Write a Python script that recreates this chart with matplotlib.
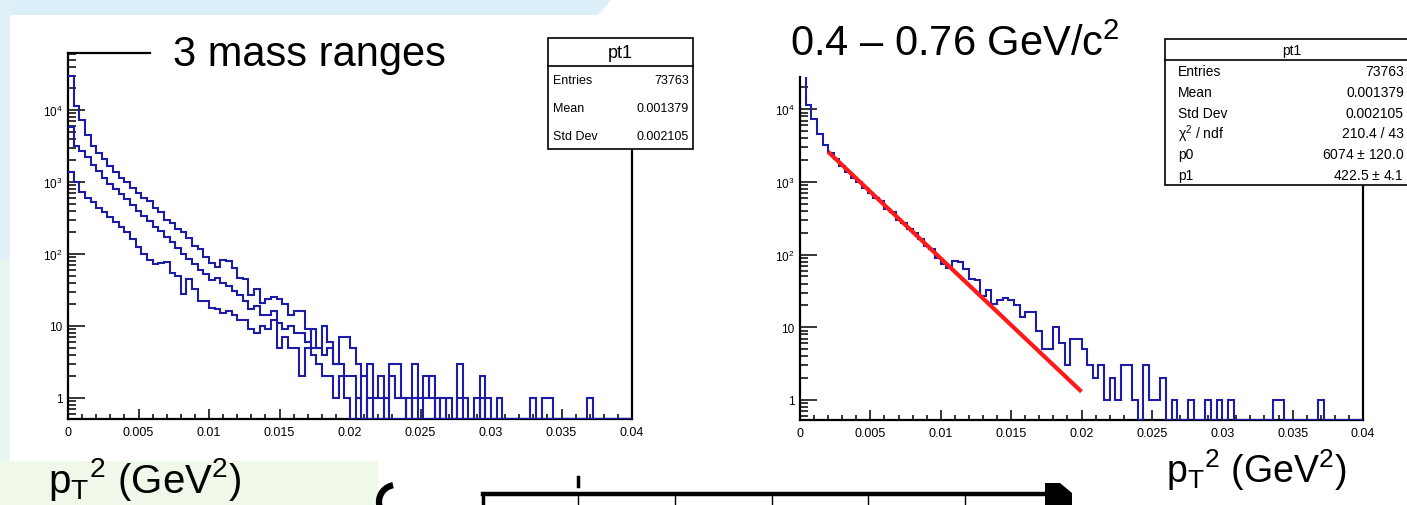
import numpy as np
import matplotlib
matplotlib.use('Agg')
import matplotlib.pyplot as plt
from matplotlib.patches import Rectangle, Polygon, Arc
from matplotlib.lines import Line2D
from matplotlib.transforms import Affine2D
from matplotlib.ticker import FixedLocator, NullFormatter, LogLocator

W, H = 1407, 506

plt.rcParams['font.family'] = ['Liberation Sans', 'DejaVu Sans']
plt.rcParams['mathtext.fontset'] = 'custom'
plt.rcParams['mathtext.rm'] = 'Liberation Sans'
plt.rcParams['mathtext.it'] = 'Liberation Sans:italic'
plt.rcParams['mathtext.default'] = 'regular'

# pT^2 histograms, 100 bins of 0.0004 GeV^2 from 0 to 0.04
bin_edges = np.linspace(0, 0.04, 101)

# mass range 0.4 - 0.76 GeV/c^2 (also the top curve on the left)
counts_a = [30000, 11500, 7300, 4500, 3200, 2500, 2100, 1650, 1380, 1150,
            1000, 820, 700, 600, 540, 430, 380, 300, 270, 225,
            200, 165, 130, 118, 90, 75, 66, 82, 80, 63,
            46, 45, 27, 33, 21, 24, 25, 24, 20, 14,
            16, 16, 9, 5, 5, 10, 6, 3, 7, 7,
            5, 3, 2, 3, 1, 2, 1, 3, 3, 1,
            0, 3, 1, 1, 2, 0, 1, 0, 0, 1,
            0, 0, 1, 0, 1, 0, 1, 0, 0, 0,
            0, 0, 0, 0, 1, 1, 0, 0, 0, 0,
            0, 0, 1, 0, 0, 0, 0, 0, 0, 0]
counts_b = [5800, 3200, 2700, 2200, 1700, 1400, 1150, 950, 800, 680,
            580, 480, 400, 340, 290, 240, 210, 170, 145, 120,
            100, 86, 72, 60, 52, 44, 46, 39, 36, 31,
            27, 22, 17, 19, 14, 14, 16, 11, 9, 10,
            8, 8, 6, 9, 5, 4, 5, 3, 3, 2,
            2, 1, 2, 0, 1, 1, 0, 2, 1, 1,
            0, 1, 0, 2, 1, 0, 0, 1, 0, 3,
            1, 0, 0, 1, 0, 0, 0, 0, 0, 0,
            0, 0, 1, 0, 0, 0, 0, 0, 0, 0,
            0, 0, 0, 0, 0, 0, 0, 0, 0, 0]
counts_c = [1380, 1000, 720, 600, 525, 430, 380, 330, 280, 240,
            200, 160, 125, 100, 82, 73, 75, 78, 55, 49,
            28, 45, 33, 22, 22, 18, 17, 15, 16, 14,
            12, 12, 9, 8, 10, 9, 12, 5, 7, 5,
            5, 2, 5, 4, 3, 2, 2, 1, 2, 1,
            0, 1, 0, 1, 0, 0, 1, 0, 0, 0,
            1, 0, 0, 0, 0, 1, 0, 0, 0, 0,
            0, 0, 0, 2, 0, 0, 0, 0, 0, 0,
            0, 0, 0, 0, 0, 0, 0, 0, 0, 0,
            0, 0, 0, 0, 0, 0, 0, 0, 0, 0]

# exponential fit drawn over 0.002 - 0.02
fit_x = [0.002, 0.02]
fit_y = [2600, 1.3]

x_ticks = [0, 0.005, 0.01, 0.015, 0.02, 0.025, 0.03, 0.035, 0.04]
x_tick_labels = ['0', '0.005', '0.01', '0.015', '0.02', '0.025', '0.03', '0.035', '0.04']
y_ticks = [1, 10, 100, 1000, 10000]
y_tick_labels = ['1', '10', '$10^{2}$', '$10^{3}$', '$10^{4}$']

stats_left = [('Entries', '73763'), ('Mean', '0.001379'), ('Std Dev', '0.002105')]
stats_right = [('Entries', '73763'), ('Mean', '0.001379'), ('Std Dev', '0.002105'),
               ('$\\chi^{2}$ / ndf', '210.4 / 43'), ('p0', '6074 $\\pm$ 120.0'),
               ('p1', '422.5 $\\pm$ 4.1')]

HIST_COLOR = '#1c1ca6'
FIT_COLOR = '#ff1a1a'


def rect(x0, y0, x1, y1):
    return [x0 / W, 1 - y1 / H, (x1 - x0) / W, (y1 - y0) / H]


def style_axes(ax, ylim):
    ax.set_xlim(0, 0.04)
    ax.set_yscale('log')
    ax.set_ylim(*ylim)
    ax.xaxis.set_major_locator(FixedLocator(x_ticks))
    ax.set_xticklabels(x_tick_labels)
    ax.xaxis.set_minor_locator(FixedLocator(np.arange(0, 0.0401, 0.001)))
    ax.yaxis.set_major_locator(FixedLocator(y_ticks))
    ax.set_yticklabels(y_tick_labels)
    ax.yaxis.set_minor_locator(LogLocator(base=10, subs=np.arange(2, 10)))
    ax.yaxis.set_minor_formatter(NullFormatter())
    ax.tick_params(which='both', direction='in', top=False, right=False,
                   width=1.1, color='black')
    ax.tick_params(axis='x', which='major', length=7, labelsize=9, pad=5)
    ax.tick_params(axis='x', which='minor', length=3.5)
    ax.tick_params(axis='y', which='major', length=12, labelsize=8.5, pad=4)
    ax.tick_params(axis='y', which='minor', length=6)
    for s in ax.spines.values():
        s.set_linewidth(1.6)


def draw_hist(ax, counts, ymin):
    vals = np.array(counts, dtype=float)
    vals = np.where(vals > 0, vals, ymin)
    ax.stairs(vals, bin_edges, baseline=None, color=HIST_COLOR, lw=1.5, zorder=3)


fig = plt.figure(figsize=(W / 100, H / 100), dpi=100)
pix = Affine2D().scale(1 / W, -1 / H).translate(0, 1) + fig.transFigure

# slide background
fig.add_artist(Polygon([(0, 0), (612, 0), (598, 16), (0, 16)], closed=True,
                       transform=pix, fc='#dcf0fa', ec='none', zorder=-5))
fig.add_artist(Rectangle((0, 0), 10, 260, transform=pix, fc='#e0f1fa', ec='none', zorder=-5))
fig.add_artist(Rectangle((0, 260), 10, 202, transform=pix, fc='#e9f6f0', ec='none', zorder=-5))
fig.add_artist(Rectangle((0, 462), 378, 44, transform=pix, fc='#f0f8e9', ec='none', zorder=-5))

# left panel: three mass ranges
ylim_l = (0.51, 6.2e4)
ax1 = fig.add_axes(rect(68, 54, 632, 420))
style_axes(ax1, ylim_l)
for c in (counts_a, counts_b, counts_c):
    draw_hist(ax1, c, ylim_l[0])
ax1.spines['top'].set_visible(False)
ax1.plot([0, (150 - 68) / 564], [1, 1], transform=ax1.transAxes,
         color='black', lw=1.6, clip_on=False)

# right panel: 0.4 - 0.76 GeV/c^2 with fit
ylim_r = (0.53, 2.78e4)
ax2 = fig.add_axes(rect(800, 78, 1363, 421))
style_axes(ax2, ylim_r)
draw_hist(ax2, counts_a, ylim_r[0])
ax2.plot(fit_x, fit_y, color=FIT_COLOR, lw=3, zorder=4, solid_capstyle='butt')
ax2.spines['top'].set_visible(False)

# stat boxes
fig.add_artist(Rectangle((548, 39), 145, 111, transform=pix, fc='white',
                         ec='black', lw=1.2, zorder=2))
fig.add_artist(Line2D([548, 693], [67, 67], transform=pix, color='black', lw=1.2, zorder=2))
fig.text(620, 53, 'pt1', transform=pix, ha='center', va='center', fontsize=13, zorder=3)
for i, (k, v) in enumerate(stats_left):
    y = 81 + 28 * i
    fig.text(553, y, k, transform=pix, ha='left', va='center', fontsize=9, zorder=3)
    fig.text(689, y, v, transform=pix, ha='right', va='center', fontsize=9, zorder=3)

fig.add_artist(Rectangle((1165, 40), 260, 146, transform=pix, fc='white',
                         ec='black', lw=1.2, zorder=2))
fig.add_artist(Line2D([1165, 1407], [61, 61], transform=pix, color='black', lw=1.2, zorder=2))
fig.text(1292, 51, 'pt1', transform=pix, ha='center', va='center', fontsize=10, zorder=3)
for i, (k, v) in enumerate(stats_right):
    y = 72 + 20.8 * i
    fig.text(1178, y, k, transform=pix, ha='left', va='center', fontsize=10, zorder=3)
    fig.text(1404, y, v, transform=pix, ha='right', va='center', fontsize=10, zorder=3)

# slide annotations
fig.text(173, 55, '3 mass ranges', transform=pix, ha='left', va='center', fontsize=30)
fig.text(790, 45, '0.4 – 0.76 GeV/c$^{2}$', transform=pix, ha='left', va='center', fontsize=30)
axis_title = '$p_{T}{}^{2}$ (GeV$^{2}$)'
fig.text(48, 480, axis_title, transform=pix, ha='left', va='center', fontsize=29)
fig.text(1166, 470, axis_title, transform=pix, ha='left', va='center', fontsize=27)

# partly visible drawing at the bottom edge of the slide
fig.add_artist(Arc((396, 503), 34, 34, theta1=100, theta2=260, transform=pix,
                   color='black', lw=4.5))
fig.add_artist(Line2D([483, 1058], [495, 495], transform=pix, color='black', lw=3.2))
fig.add_artist(Line2D([483, 483], [495, 506], transform=pix, color='black', lw=2.5))
for tx in [578, 675, 772, 868, 965]:
    fig.add_artist(Line2D([tx, tx], [495, 506], transform=pix, color='black', lw=1.0))
fig.add_artist(Line2D([578, 578], [478, 487], transform=pix, color='black', lw=2.5))
fig.add_artist(Polygon([(1045, 484), (1060, 484), (1072, 494), (1072, 506), (1045, 506)],
                       closed=True, transform=pix, fc='black', ec='none'))

fig.savefig('out.png', dpi=100)
